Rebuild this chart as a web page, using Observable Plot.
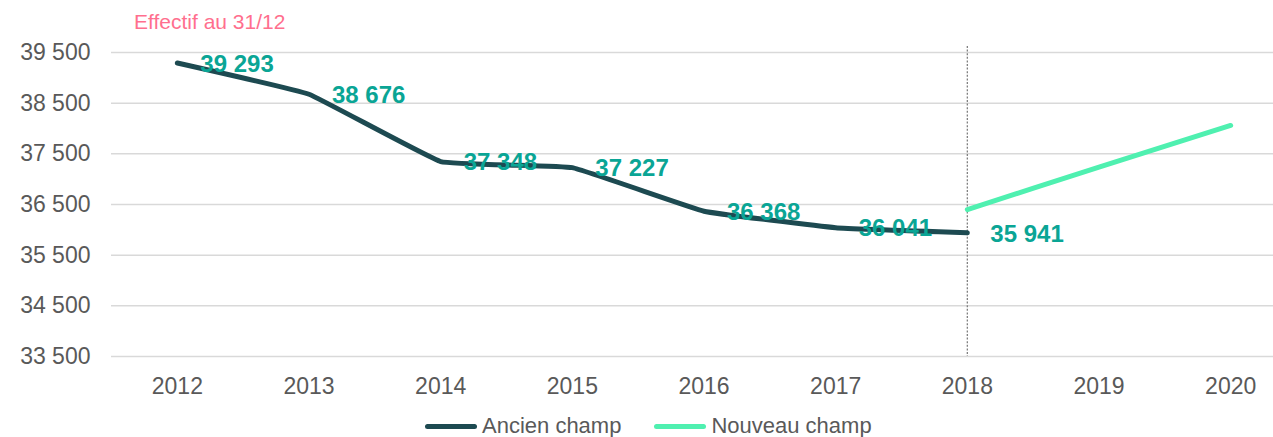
<!DOCTYPE html>
<html><head><meta charset="utf-8">
<script src="https://cdn.jsdelivr.net/npm/d3@7"></script>
<script src="https://cdn.jsdelivr.net/npm/@observablehq/plot@0.6"></script>
<style>
body{margin:0;background:#fff;font-family:"Liberation Sans",Arial,sans-serif;}
#title{height:40px;box-sizing:border-box;padding:11px 0 0 134px;font-size:21px;line-height:21px;color:#ff6f8e;}
#chart svg{display:block;}
#legend{height:52px;display:flex;align-items:center;padding-left:425px;font-size:22px;color:#595959;}
.sw{display:inline-block;width:52px;height:5px;border-radius:3px;margin-right:5px;}
.item{display:flex;align-items:center;margin-right:33px;}
</style></head><body>
<div id="title">Effectif au 31/12</div>
<div id="chart"></div>
<div id="legend"></div>
<script>
const years = [2012, 2013, 2014, 2015, 2016, 2017, 2018, 2019, 2020];
const ancienYears = [2012, 2013, 2014, 2015, 2016, 2017, 2018];
const ancienValues = [39293, 38676, 37348, 37227, 36368, 36041, 35941];
const nouveauYears = [2018, 2019, 2020];
const nouveauValues = [36400, 37240, 38060];
const yTicks = [33500, 34500, 35500, 36500, 37500, 38500, 39500];
const separatorYear = [2018];
const seriesNames = ["Ancien champ", "Nouveau champ"];
const seriesColors = ["#1d4a51", "#4ff0b0"];

const fmt = d => d3.format(",")(d).replace(/,/g, " ");
const ancien = ancienYears.map((x, i) => ({x, y: ancienValues[i]}));
const nouveau = nouveauYears.map((x, i) => ({x, y: nouveauValues[i]}));

const chart = Plot.plot({
  width: 1273,
  height: 360,
  marginTop: 6,
  marginLeft: 111,
  marginRight: 0,
  marginBottom: 44,
  style: {fontFamily: "'Liberation Sans', Arial, sans-serif", fontSize: "23px", color: "#595959", background: "#fff"},
  x: {type: "point", domain: years, range: [111, 1296], padding: 0.5, round: false, label: null},
  y: {domain: [33500, 39500], range: [316, 12], label: null},
  marks: [
    Plot.ruleY(yTicks, {stroke: "#d9d9d9", strokeWidth: 1.5}),
    Plot.axisY({ticks: yTicks, tickSize: 0, tickPadding: 21, tickFormat: fmt, label: null, fontSize: 23, fill: "#595959"}),
    Plot.axisX({tickSize: 0, tickPadding: 21, tickFormat: d => String(d), label: null, fontSize: 23, fill: "#595959"}),
    Plot.ruleX(separatorYear, {stroke: "#7f7f7f", strokeWidth: 1.3, strokeDasharray: "2,1.6"}),
    Plot.line(ancien, {x: "x", y: "y", stroke: seriesColors[0], strokeWidth: 5, strokeLinecap: "round", strokeLinejoin: "round", curve: "cardinal", tension: 0.75}),
    Plot.line(nouveau, {x: "x", y: "y", stroke: seriesColors[1], strokeWidth: 5, strokeLinecap: "round", strokeLinejoin: "round", curve: "cardinal", tension: 0.75}),
    Plot.text(ancien, {x: "x", y: "y", text: d => fmt(d.y), textAnchor: "start", dx: 23, dy: 1, fill: "#0aa595", fontWeight: "bold", fontSize: 24})
  ]
});
document.getElementById("chart").appendChild(chart);

const legend = document.getElementById("legend");
seriesNames.forEach((name, i) => {
  const item = document.createElement("div");
  item.className = "item";
  const sw = document.createElement("span");
  sw.className = "sw";
  sw.style.background = seriesColors[i];
  item.appendChild(sw);
  item.appendChild(document.createTextNode(name));
  legend.appendChild(item);
});
</script>
</body></html>
